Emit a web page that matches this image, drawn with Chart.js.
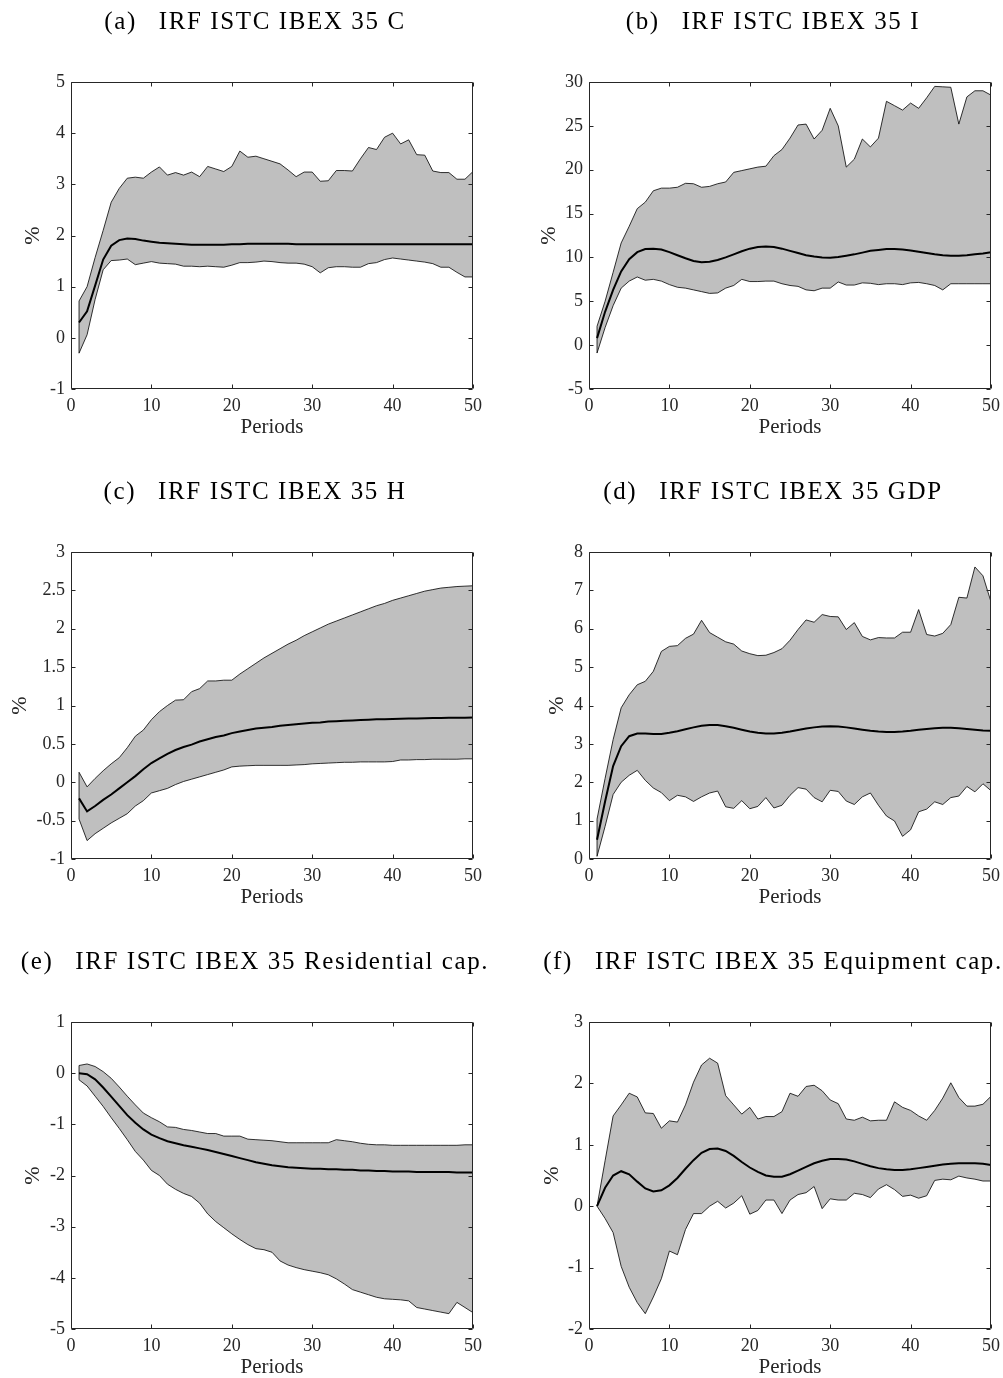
<!DOCTYPE html>
<html>
<head>
<meta charset="utf-8">
<script src="https://cdn.jsdelivr.net/npm/chart.js@4.4.0/dist/chart.umd.min.js"></script>
<style>
  html, body { margin: 0; padding: 0; background: #ffffff; }
  body { width: 1003px; height: 1378px; overflow: hidden; position: relative; }
  canvas { position: absolute; }
</style>
</head>
<body>
<canvas id="pa" width="510" height="470" style="left:0px;top:0px"></canvas>
<canvas id="pb" width="510" height="470" style="left:518px;top:0px"></canvas>
<canvas id="pc" width="510" height="470" style="left:0px;top:470px"></canvas>
<canvas id="pd" width="510" height="470" style="left:518px;top:470px"></canvas>
<canvas id="pe" width="510" height="438" style="left:0px;top:940px"></canvas>
<canvas id="pf" width="510" height="438" style="left:518px;top:940px"></canvas>
<script>
// Horizon (periods after the shock) and x-axis ticks
const periods = [1,2,3,4,5,6,7,8,9,10,11,12,13,14,15,16,17,18,19,20,21,22,23,24,25,
                 26,27,28,29,30,31,32,33,34,35,36,37,38,39,40,41,42,43,44,45,46,47,48,49,50];
const xTicks = [0, 10, 20, 30, 40, 50];

// Panel titles
const titles = [
  '(a)\u2002 IRF ISTC IBEX 35 C',
  '(b)\u2002 IRF ISTC IBEX 35 I',
  '(c)\u2002 IRF ISTC IBEX 35 H',
  '(d)\u2002 IRF ISTC IBEX 35 GDP',
  '(e)\u2002 IRF ISTC IBEX 35 Residential cap.',
  '(f)\u2002 IRF ISTC IBEX 35 Equipment cap.'
];

// (a) Consumption
const cUpper  = [0.72,1.00,1.57,2.10,2.65,2.92,3.12,3.14,3.12,3.24, 3.34,3.18,3.23,3.18,3.24,3.15,3.35,3.30,3.25,3.35,
                 3.65,3.53,3.55,3.50,3.45,3.40,3.28,3.15,3.24,3.24, 3.06,3.07,3.27,3.27,3.26,3.50,3.72,3.68,3.92,4.00,
                 3.79,3.87,3.58,3.57,3.26,3.23,3.23,3.10,3.10,3.25];
const cLower  = [-0.30,0.06,0.75,1.33,1.51,1.52,1.54,1.43,1.46,1.49, 1.46,1.45,1.44,1.40,1.40,1.39,1.40,1.39,1.38,1.42,
                 1.47,1.47,1.48,1.50,1.49,1.47,1.46,1.46,1.44,1.39, 1.27,1.37,1.39,1.39,1.38,1.38,1.45,1.47,1.53,1.56,
                 1.54,1.52,1.50,1.48,1.45,1.38,1.38,1.28,1.19,1.19];
const cMedian = [0.30,0.52,1.02,1.53,1.80,1.91,1.94,1.93,1.90,1.88, 1.86,1.85,1.84,1.83,1.82,1.82,1.82,1.82,1.82,1.83,
                 1.83,1.84,1.84,1.84,1.84,1.84,1.84,1.83,1.83,1.83, 1.83,1.83,1.83,1.83,1.83,1.83,1.83,1.83,1.83,1.83,
                 1.83,1.83,1.83,1.83,1.83,1.83,1.83,1.83,1.83,1.83];
const cTicks  = [-1, 0, 1, 2, 3, 4, 5];

// (b) Investment
const iUpper  = [2.15,5.0,8.3,11.65,13.55,15.56,16.3,17.6,17.9,17.9, 18.0,18.45,18.4,18.0,18.1,18.4,18.6,19.7,19.9,20.1,
                 20.3,20.4,21.6,22.3,23.6,25.1,25.2,23.5,24.5,27.0, 25.0,20.3,21.2,23.5,22.6,23.6,27.8,27.3,26.8,27.6,
                 27.0,28.2,29.5,29.45,29.4,25.2,28.3,29.0,29.0,28.5];
const iLower  = [-0.9,2.0,4.5,6.5,7.3,7.77,7.4,7.5,7.3,6.9, 6.6,6.5,6.3,6.1,5.9,5.95,6.5,6.8,7.5,7.25,
                 7.25,7.3,7.3,7.0,6.8,6.7,6.3,6.2,6.5,6.5, 7.2,6.85,6.85,7.1,7.05,6.9,7.0,7.0,6.9,7.1,
                 7.15,7.0,6.8,6.3,7.0,7.0,7.0,7.0,7.0,7.0];
const iMedian = [0.8,3.8,6.3,8.4,9.8,10.6,10.95,11.0,10.9,10.6, 10.25,9.9,9.6,9.45,9.5,9.7,10.0,10.35,10.7,11.0,
                 11.2,11.25,11.2,11.0,10.75,10.5,10.25,10.1,10.0,9.95, 10.05,10.2,10.35,10.55,10.75,10.85,10.95,10.95,10.9,10.8,
                 10.65,10.5,10.35,10.25,10.2,10.2,10.25,10.35,10.45,10.6];
const iTicks  = [-5, 0, 5, 10, 15, 20, 25, 30];

// (c) Hours
const hUpper  = [0.13,-0.06,0.05,0.15,0.24,0.32,0.45,0.60,0.68,0.815, 0.92,1.0,1.07,1.075,1.18,1.22,1.32,1.32,1.33,1.33,
                 1.41,1.48,1.55,1.62,1.68,1.74,1.80,1.85,1.91,1.96, 2.01,2.06,2.10,2.14,2.18,2.22,2.26,2.30,2.33,2.37,
                 2.40,2.43,2.46,2.49,2.51,2.53,2.54,2.55,2.555,2.56];
const hLower  = [-0.48,-0.76,-0.67,-0.60,-0.53,-0.47,-0.41,-0.31,-0.24,-0.14, -0.11,-0.08,-0.03,0.01,0.04,0.07,0.10,0.13,0.16,0.20,
                 0.21,0.215,0.22,0.22,0.22,0.22,0.22,0.225,0.23,0.24, 0.245,0.25,0.255,0.26,0.26,0.265,0.265,0.265,0.265,0.27,
                 0.29,0.29,0.295,0.295,0.30,0.30,0.30,0.30,0.305,0.305];
const hMedian = [-0.21,-0.38,-0.31,-0.23,-0.16,-0.08,0.0,0.08,0.17,0.25, 0.31,0.37,0.42,0.46,0.49,0.53,0.56,0.59,0.61,0.64,
                 0.66,0.68,0.70,0.71,0.72,0.735,0.745,0.755,0.765,0.775, 0.78,0.79,0.795,0.80,0.805,0.81,0.815,0.82,0.822,0.825,
                 0.828,0.83,0.832,0.834,0.836,0.838,0.84,0.84,0.842,0.843];
const hTicks  = [-1, -0.5, 0, 0.5, 1, 1.5, 2, 2.5, 3];

// (d) GDP
const gUpper  = [1.04,2.1,3.11,3.94,4.28,4.54,4.63,4.89,5.41,5.54, 5.56,5.75,5.86,6.22,5.90,5.78,5.66,5.60,5.42,5.35,
                 5.30,5.31,5.38,5.48,5.70,5.98,6.23,6.17,6.37,6.32, 6.31,5.98,6.16,5.80,5.71,5.77,5.76,5.76,5.91,5.91,
                 6.50,5.85,5.81,5.88,6.11,6.82,6.80,7.61,7.38,6.70];
const gLower  = [0.07,0.85,1.68,2.0,2.18,2.31,2.05,1.85,1.73,1.52, 1.66,1.62,1.50,1.62,1.72,1.77,1.36,1.32,1.52,1.31,
                 1.37,1.60,1.33,1.40,1.66,1.86,1.82,1.60,1.49,1.79, 1.76,1.51,1.42,1.62,1.72,1.40,1.12,0.99,0.59,0.76,
                 1.23,1.30,1.49,1.42,1.60,1.64,1.89,1.75,1.96,1.78];
const gMedian = [0.5,1.5,2.42,2.94,3.2,3.27,3.27,3.26,3.26,3.29, 3.33,3.38,3.43,3.47,3.49,3.49,3.46,3.42,3.37,3.32,
                 3.29,3.27,3.27,3.29,3.32,3.36,3.40,3.43,3.45,3.46, 3.45,3.43,3.40,3.37,3.34,3.32,3.31,3.31,3.32,3.34,
                 3.37,3.39,3.41,3.42,3.42,3.41,3.39,3.37,3.35,3.34];
const gTicks  = [0, 1, 2, 3, 4, 5, 6, 7, 8];

// (e) Residential capital
const rUpper  = [0.15,0.18,0.13,0.03,-0.10,-0.27,-0.45,-0.62,-0.78,-0.87, -0.95,-1.05,-1.06,-1.10,-1.12,-1.15,-1.18,-1.18,-1.23,-1.23,
                 -1.23,-1.29,-1.30,-1.31,-1.32,-1.34,-1.36,-1.36,-1.36,-1.36, -1.36,-1.36,-1.30,-1.32,-1.34,-1.37,-1.39,-1.40,-1.40,-1.41,
                 -1.41,-1.41,-1.41,-1.41,-1.41,-1.41,-1.41,-1.41,-1.40,-1.40];
const rLower  = [-0.13,-0.25,-0.45,-0.65,-0.87,-1.08,-1.30,-1.53,-1.70,-1.90, -2.00,-2.17,-2.27,-2.35,-2.41,-2.54,-2.75,-2.90,-3.02,-3.14,
                 -3.25,-3.35,-3.43,-3.45,-3.50,-3.67,-3.75,-3.80,-3.84,-3.87, -3.90,-3.94,-4.02,-4.12,-4.23,-4.28,-4.33,-4.38,-4.41,-4.42,
                 -4.43,-4.45,-4.58,-4.61,-4.64,-4.67,-4.70,-4.48,-4.58,-4.68];
const rMedian = [0.0,-0.02,-0.12,-0.28,-0.46,-0.64,-0.82,-0.97,-1.10,-1.20, -1.27,-1.33,-1.37,-1.41,-1.44,-1.47,-1.50,-1.54,-1.58,-1.62,
                 -1.66,-1.70,-1.74,-1.77,-1.80,-1.82,-1.84,-1.85,-1.86,-1.87, -1.87,-1.88,-1.88,-1.89,-1.89,-1.90,-1.90,-1.91,-1.91,-1.92,
                 -1.92,-1.92,-1.93,-1.93,-1.93,-1.93,-1.93,-1.94,-1.94,-1.94];
const rTicks  = [-5, -4, -3, -2, -1, 0, 1];

// (f) Equipment capital
const eUpper  = [0.0,0.74,1.47,1.65,1.84,1.78,1.52,1.51,1.27,1.39, 1.37,1.65,2.02,2.30,2.41,2.33,1.80,1.65,1.50,1.61,
                 1.42,1.46,1.46,1.54,1.84,1.79,1.95,1.97,1.88,1.73, 1.67,1.42,1.40,1.45,1.39,1.40,1.40,1.70,1.61,1.56,
                 1.47,1.40,1.56,1.76,2.01,1.77,1.63,1.63,1.66,1.79];
const eLower  = [0.0,-0.20,-0.43,-0.98,-1.32,-1.57,-1.75,-1.48,-1.18,-0.73, -0.79,-0.38,-0.12,-0.12,0.0,0.08,-0.03,0.05,0.17,-0.13,
                 -0.07,0.10,0.10,-0.12,0.10,0.19,0.22,0.32,-0.04,0.12, 0.10,0.10,0.21,0.19,0.14,0.28,0.35,0.27,0.16,0.18,
                 0.13,0.17,0.42,0.44,0.43,0.49,0.46,0.44,0.41,0.41];
const eMedian = [0.0,0.30,0.50,0.57,0.52,0.40,0.29,0.24,0.26,0.34, 0.46,0.61,0.75,0.87,0.93,0.94,0.90,0.82,0.72,0.63,
                 0.56,0.50,0.48,0.48,0.52,0.58,0.64,0.70,0.74,0.77, 0.77,0.76,0.73,0.69,0.65,0.62,0.60,0.59,0.59,0.60,
                 0.62,0.64,0.66,0.68,0.69,0.70,0.70,0.70,0.69,0.67];
const eTicks  = [-2, -1, 0, 1, 2, 3];

// ---------------------------------------------------------------------------
const INK = '#262626';
const SERIF = '"Liberation Serif", "Times New Roman", serif';
Chart.defaults.font.family = SERIF;
Chart.defaults.color = INK;

// Panel caption above each axes box
const panelTitle = {
  id: 'panelTitle',
  afterDraw(chart, args, opts) {
    const ctx = chart.ctx;
    ctx.save();
    ctx.font = opts.size + 'px ' + SERIF;
    ctx.fillStyle = '#000000';
    ctx.textAlign = 'center';
    ctx.textBaseline = 'alphabetic';
    if ('letterSpacing' in ctx) ctx.letterSpacing = opts.spacing + 'px';
    ctx.fillText(opts.text, opts.x, opts.y);
    ctx.restore();
  }
};

// Boxed axes with inward tick marks on all four sides
const frameTicks = {
  id: 'frameTicks',
  afterDatasetsDraw(chart, args, opts) {
    const { ctx, chartArea: a, scales: { x, y } } = chart;
    const L = opts.length;
    const l = Math.round(a.left) + 0.5, r = Math.round(a.right) - 0.5;
    const t = Math.round(a.top) + 0.5, b = Math.round(a.bottom) - 0.5;
    ctx.save();
    ctx.strokeStyle = INK;
    ctx.lineWidth = 1;
    ctx.beginPath();
    x.ticks.forEach(tk => {
      const px = Math.round(x.getPixelForValue(tk.value)) + 0.5;
      ctx.moveTo(px, b); ctx.lineTo(px, b - L);
      ctx.moveTo(px, t); ctx.lineTo(px, t + L);
    });
    y.ticks.forEach(tk => {
      const py = Math.round(y.getPixelForValue(tk.value)) + 0.5;
      ctx.moveTo(l, py); ctx.lineTo(l + L, py);
      ctx.moveTo(r, py); ctx.lineTo(r - L, py);
    });
    ctx.rect(l, t, r - l, b - t);
    ctx.stroke();
    ctx.restore();
  }
};

const PLOT_LEFT = 71, PLOT_RIGHT = 473, PLOT_TOP = 82, X_AXIS_H = 51;

function drawPanel(canvasId, title, upper, lower, median, yTicks, labelX) {
  const canvas = document.getElementById(canvasId);
  const H = canvas.height, W = canvas.width;
  // closed outline of the band: upper edge forward, lower edge back
  const band = upper.map((v, i) => ({ x: periods[i], y: v }))
    .concat(lower.map((v, i) => ({ x: periods[i], y: v })).reverse());
  band.push(band[0]);
  const line = median.map((v, i) => ({ x: periods[i], y: v }));
  const padLeft = labelX - 13;

  new Chart(canvas, {
    type: 'line',
    data: {
      datasets: [
        { data: line, borderColor: '#000000', borderWidth: 2, pointRadius: 0, fill: false, tension: 0 },
        { data: band, borderColor: '#000000', borderWidth: 0.8, backgroundColor: '#bfbfbf',
          pointRadius: 0, fill: 'shape', tension: 0 }
      ]
    },
    options: {
      responsive: false,
      animation: false,
      devicePixelRatio: 1,
      events: [],
      layout: { padding: { left: padLeft, right: W - PLOT_RIGHT, top: PLOT_TOP, bottom: H - (389 + X_AXIS_H) } },
      plugins: {
        legend: { display: false },
        tooltip: { enabled: false },
        panelTitle: { text: title, x: 255, y: 29, size: 25, spacing: 1.6 },
        frameTicks: { length: 4 }
      },
      scales: {
        x: {
          type: 'linear', min: xTicks[0], max: xTicks[xTicks.length - 1],
          afterBuildTicks: s => { s.ticks = xTicks.map(v => ({ value: v })); },
          afterFit: s => { s.height = X_AXIS_H; },
          grid: { display: false, drawTicks: false },
          border: { display: false },
          ticks: { color: INK, font: { size: 18 }, padding: 6, maxRotation: 0, autoSkip: false,
                   callback: v => String(v) },
          title: { display: true, text: 'Periods', color: INK, font: { size: 21 }, padding: 0 }
        },
        y: {
          type: 'linear', min: yTicks[0], max: yTicks[yTicks.length - 1],
          afterBuildTicks: s => { s.ticks = yTicks.map(v => ({ value: v })); },
          afterFit: s => { s.width = PLOT_LEFT - padLeft; },
          grid: { display: false, drawTicks: false },
          border: { display: false },
          ticks: { color: INK, font: { size: 18 }, padding: 6, autoSkip: false,
                   callback: v => String(v) },
          title: { display: true, text: '%', color: INK, font: { size: 22 }, padding: 0 }
        }
      }
    },
    plugins: [panelTitle, frameTicks]
  });
}

drawPanel('pa', titles[0], cUpper, cLower, cMedian, cTicks, 33);
drawPanel('pb', titles[1], iUpper, iLower, iMedian, iTicks, 31);
drawPanel('pc', titles[2], hUpper, hLower, hMedian, hTicks, 20);
drawPanel('pd', titles[3], gUpper, gLower, gMedian, gTicks, 39);
drawPanel('pe', titles[4], rUpper, rLower, rMedian, rTicks, 33);
drawPanel('pf', titles[5], eUpper, eLower, eMedian, eTicks, 34);
</script>
</body>
</html>
